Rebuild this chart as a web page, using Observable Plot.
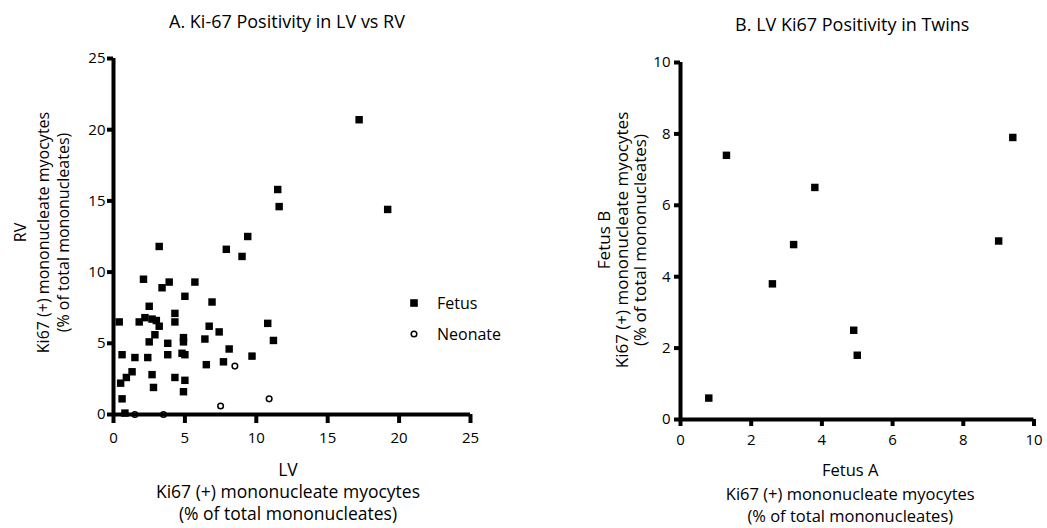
<!DOCTYPE html>
<html><head><meta charset="utf-8">
<script src="https://cdn.jsdelivr.net/npm/d3@7"></script>
<script src="https://cdn.jsdelivr.net/npm/@observablehq/plot@0.6"></script>
<style>
body{margin:0;background:#fff;}
#wrap{position:relative;width:1047px;height:528px;font-family:"Open Sans",sans-serif;background:#fff;}
#a,#b{position:absolute;top:0;}
#a{left:0;} #b{left:520px;}
#legend{position:absolute;left:407px;top:287px;font-size:16px;color:#000;}
.row{display:flex;align-items:center;height:31px;}
.row svg{width:14px;height:14px;margin-right:16px;}
</style></head><body><div id="wrap"><div id="a"></div><div id="b"></div><div id="legend"></div></div>
<script>
// Panel A data
const fetusLV = [9.4,3.2,7.9,9.0,2.1,3.9,3.4,5.7,5.0,6.9,2.5,4.3,4.3,0.4,1.8,2.2,2.7,3.0,3.2,2.9,2.5,6.7,10.8,4.9,4.9,6.4,7.4,11.2,3.8,0.6,1.5,2.4,3.8,4.8,5.0,8.1,9.7,6.5,7.7,1.3,0.9,0.5,2.7,2.8,4.3,5.0,4.9,0.6,0.8,11.5,11.6,17.2,19.2];
const fetusRV = [12.5,11.8,11.6,11.1,9.5,9.3,8.9,9.3,8.3,7.9,7.6,7.1,6.5,6.5,6.5,6.8,6.7,6.6,6.2,5.6,5.1,6.2,6.4,5.4,5.1,5.3,5.8,5.2,5.0,4.2,4.0,4.0,4.2,4.3,4.2,4.6,4.1,3.5,3.7,3.0,2.6,2.2,2.8,1.9,2.6,2.4,1.6,1.1,0.1,15.8,14.6,20.7,14.4];
const neonateLV = [8.5,7.5,10.9,1.5,3.5];
const neonateRV = [3.4,0.6,1.1,0,0];
const ticksA = [0,5,10,15,20,25];
const titleA = "A. Ki-67 Positivity in LV vs RV";
const xLabelA = ["LV","Ki67 (+) mononucleate myocytes","(% of total mononucleates)"];
const yLabelA = ["RV","Ki67 (+) mononucleate myocytes","(% of total mononucleates)"];
const legendLabels = ["Fetus","Neonate"];

// Panel B data
const twinA = [1.3,3.8,3.2,2.6,4.9,5.0,0.8,9.4,9.0];
const twinB = [7.4,6.5,4.9,3.8,2.5,1.8,0.6,7.9,5.0];
const ticksB = [0,2,4,6,8,10];
const titleB = "B. LV Ki67 Positivity in Twins";
const xLabelB = ["Fetus A","Ki67 (+) mononucleate myocytes","(% of total mononucleates)"];
const yLabelB = ["Fetus B","Ki67 (+) mononucleate myocytes","(% of total mononucleates)"];

const fetus = fetusLV.map((v,i)=>({x:v,y:fetusRV[i]}));
const neonate = neonateLV.map((v,i)=>({x:v,y:neonateRV[i]}));
const twins = twinA.map((v,i)=>({x:v,y:twinB[i]}));

const font = "'Open Sans', sans-serif";
function labelMarks(xl, yl, xOff, xDys, xSize, yDxs, yDy, ySize, title, tDx, tDy){
  const m = [];
  xl.forEach((t,i)=>m.push(Plot.text([t],{text:d=>d,frameAnchor:"bottom",dx:xOff,dy:xDys[i],lineAnchor:"middle",fontSize:xSize,fill:"black"})));
  yl.forEach((t,i)=>m.push(Plot.text([t],{text:d=>d,frameAnchor:"left",dx:yDxs[i],dy:yDy,rotate:-90,lineAnchor:"middle",textAnchor:"middle",fontSize:ySize,fill:"black"})));
  m.push(Plot.text([title],{text:d=>d,frameAnchor:"top",dx:tDx,dy:tDy,lineAnchor:"middle",fontSize:18,fill:"black"}));
  return m;
}
const axisStyle = {stroke:"black", strokeWidth:4};

const chartA = Plot.plot({
  width:520, height:528, marginLeft:113, marginRight:50, marginTop:58, marginBottom:114,
  x:{domain:[0,25]}, y:{domain:[0,25]},
  style:{fontFamily:font, fontSize:"15px", color:"black", background:"white"},
  marks:[
    Plot.axisX({ticks:ticksA, tickSize:9, tickPadding:9, ...axisStyle, label:null, fontSize:15}),
    Plot.axisY({ticks:ticksA, tickSize:6, tickPadding:2, ...axisStyle, label:null, fontSize:15}),
    Plot.ruleY([0],axisStyle),
    Plot.ruleX([0],axisStyle),
    Plot.dot(fetus,{x:"x",y:"y",symbol:"square",r:4.2,fill:"black",stroke:null}),
    Plot.dot(neonate,{x:"x",y:"y",symbol:"circle",r:2.8,fill:"none",stroke:"black",strokeWidth:1.5}),
    ...labelMarks(xLabelA, yLabelA, -4, [56,78,100], 17.5, [-93,-70,-50], -4, 16, titleA, -5, -36)
  ]
});
document.getElementById("a").append(chartA);

const chartB = Plot.plot({
  width:527, height:528, marginLeft:160, marginRight:13.5, marginTop:62, marginBottom:109,
  x:{domain:[0,10]}, y:{domain:[0,10]},
  style:{fontFamily:font, fontSize:"15px", color:"black", background:"white"},
  marks:[
    Plot.axisX({ticks:ticksB, tickSize:7, tickPadding:8, ...axisStyle, label:null, fontSize:15}),
    Plot.axisY({ticks:ticksB, tickSize:6, tickPadding:4, ...axisStyle, label:null, fontSize:15}),
    Plot.ruleY([0],axisStyle),
    Plot.ruleX([0],axisStyle),
    Plot.dot(twins,{x:"x",y:"y",symbol:"square",r:4.2,fill:"black",stroke:null}),
    ...labelMarks(xLabelB, yLabelB, -7, [51,75,97], 16.5, [-76,-58,-40], -1, 17, titleB, -5, -37)
  ]
});
document.getElementById("b").append(chartB);

// Legend for panel A
const lg = document.getElementById("legend");
legendLabels.forEach((t,i)=>{
  const row = document.createElement("div"); row.className="row";
  const sw = i===0
    ? '<svg viewBox="0 0 14 14"><rect x="3.2" y="3.2" width="7.6" height="7.6" fill="black"/></svg>'
    : '<svg viewBox="0 0 14 14"><circle cx="7" cy="7" r="2.8" fill="none" stroke="black" stroke-width="1.5"/></svg>';
  row.innerHTML = sw + '<span>'+t+'</span>';
  lg.append(row);
});
</script>
</body></html>
